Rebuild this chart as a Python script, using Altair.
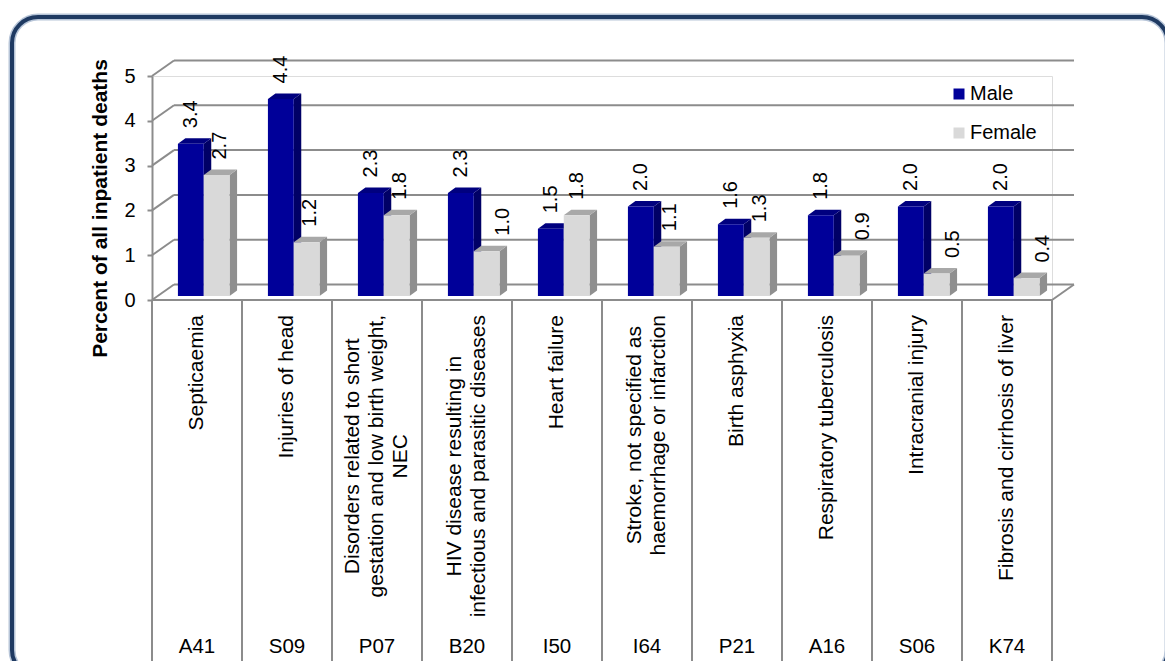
import altair as alt
import pandas as pd

# ---------------- data ----------------
codes = ["A41", "S09", "P07", "B20", "I50", "I64", "P21", "A16", "S06", "K74"]
descriptions = [
    "Septicaemia",
    "Injuries of head",
    "Disorders related to short\ngestation and low birth weight,\nNEC",
    "HIV disease resulting in\ninfectious and parasitic diseases",
    "Heart failure",
    "Stroke, not specified as\nhaemorrhage or infarction",
    "Birth asphyxia",
    "Respiratory tuberculosis",
    "Intracranial injury",
    "Fibrosis and cirrhosis of liver",
]
male = [3.4, 4.4, 2.3, 2.3, 1.5, 2.0, 1.6, 1.8, 2.0, 2.0]
female = [2.7, 1.2, 1.8, 1.0, 1.8, 1.1, 1.3, 0.9, 0.5, 0.4]
series = ["Male", "Female"]
y_ticks = [0, 1, 2, 3, 4, 5]

# ---------------- style ----------------
W, H = 900, 224
PXX, PXY = W / 10, H / 5
FONT = "Liberation Sans"
FS = 20
FS_CAT = 21
LH = 24
MALE_FRONT, MALE_SIDE, MALE_TOP = "#000099", "#000066", "#00007F"
FEM_FRONT, FEM_SIDE, FEM_TOP = "#D9D9D9", "#8F8F8F", "#A8A8A8"
GRID = "#8C8C8C"
WALL_DX, WALL_DY = 22 / PXX, 15.5 / PXY
BAR_C, BAR_W, BAR_BASE = 0.575, 0.287, 4 / PXY
DDX, DDY = 7.5 / PXX, 5.5 / PXY

AW = {' ': 278, ',': 278, '.': 278}
AW.update({d: 556 for d in "0123456789"})
AW.update(dict(zip("ABCDEFGHIJKLMNOPQRSTUVWXYZ",
                   [667, 667, 722, 722, 667, 611, 778, 722, 278, 500, 667, 556, 833,
                    722, 778, 667, 778, 722, 667, 611, 722, 667, 944, 667, 667, 611])))
AW.update(dict(zip("abcdefghijklmnopqrstuvwxyz",
                   [556, 556, 500, 556, 556, 278, 556, 556, 222, 222, 500, 222, 833,
                    556, 556, 556, 556, 333, 500, 278, 556, 500, 722, 500, 500, 500])))


def text_w(s, size):
    return sum(AW.get(ch, 556) for ch in s) / 1000 * size


xs = alt.Scale(domain=[0, 10], nice=False, zero=False)
ys = alt.Scale(domain=[0, 5], nice=False, zero=False)
yax = alt.Axis(
    values=y_ticks, title="Percent of all inpatient deaths", grid=False,
    labelFont=FONT, labelFontSize=FS, labelColor="black", labelPadding=12,
    tickColor=GRID, tickSize=5, tickWidth=2, domainColor=GRID, domainWidth=2,
    titleFont=FONT, titleFontSize=21, titleFontWeight="bold", titleColor="black",
    titleAngle=270, titleX=-52, titleY=132, titleAlign="center", titleBaseline="middle")

# ---------------- tables built from the arrays ----------------
front, sides, tops, labels = [], [], [], []
for i in range(len(codes)):
    c = i + BAR_C
    for s, vals in zip(series, [male, female]):
        v = vals[i]
        x1 = c - BAR_W if s == "Male" else c
        x2 = x1 + BAR_W
        top = v + BAR_BASE
        bid = f"{s}-{i}"
        front.append(dict(sex=s, x1=x1, x2=x2, top=top, base=BAR_BASE))
        sides += [dict(sex=s, bar=bid, x=x2, y=top, y2=BAR_BASE),
                  dict(sex=s, bar=bid, x=x2 + DDX, y=top + DDY, y2=BAR_BASE + DDY)]
        tops += [dict(sex=s, bar=bid, x=x1, y=top, y2=top),
                 dict(sex=s, bar=bid, x=x1 + DDX, y=top + DDY, y2=top),
                 dict(sex=s, bar=bid, x=x2, y=top + DDY, y2=top),
                 dict(sex=s, bar=bid, x=x2 + DDX, y=top + DDY, y2=top + DDY)]
        lx = (x1 + x2) / 2
        if s == "Female" and male[i] > v + 0.2:
            gap = 15 if v <= 1.0 else 2
            lx = max(lx, c + DDX + (gap + 7) / PXX)
        labels.append(dict(x=lx, y=top + DDY, t=f"{v:.1f}"))

front = pd.DataFrame(front)
sides = pd.DataFrame(sides)
tops = pd.DataFrame(tops)
labels = pd.DataFrame(labels)

nlines = [len(d.split("\n")) for d in descriptions]
cat_df = pd.DataFrame({
    "x": [i + 0.5 - (n - 1) * LH / 2 / PXX for i, n in enumerate(nlines)],
    "xc": [i + 0.5 for i in range(len(codes))],
    "code": codes,
    "desc": descriptions,
    "ly": [-(15 + max(text_w(l, FS_CAT) for l in d.split("\n")) / 2) / PXY for d in descriptions],
})
sep_df = pd.DataFrame({"x": [float(i) for i in range(len(codes) + 1)]})
sep_df["y0"] = 0.0
grid_df = pd.DataFrame({"v": [float(t) for t in y_ticks]})
grid_df["vb"] = grid_df["v"] + WALL_DY
grid_df["x0"] = 0.0
grid_df["xb"] = WALL_DX
grid_df["xe"] = 10 + WALL_DX
floor_df = pd.DataFrame({"xa": [0.0, 10.0], "xb": [10.0, 10 + WALL_DX],
                         "ya": [0.0, 0.0], "yb": [0.0, WALL_DY]})
one = pd.DataFrame({"a": [0]})

# ---------------- layers ----------------
frame_glow = alt.Chart(one).mark_rect(
    fill="transparent", stroke="#7E97BA", strokeWidth=7, cornerRadius=26, opacity=0.55
).encode(x=alt.value(-140), x2=alt.value(1016), y=alt.value(-59), y2=alt.value(600))
frame = alt.Chart(one).mark_rect(
    fill="transparent", stroke="#1F3A62", strokeWidth=4, cornerRadius=26
).encode(x=alt.value(-140), x2=alt.value(1016), y=alt.value(-59), y2=alt.value(600))

back_grid = alt.Chart(grid_df).mark_rule(color=GRID, strokeWidth=2).encode(
    x=alt.X("xb:Q", scale=xs, axis=None), x2="xe:Q",
    y=alt.Y("vb:Q", scale=ys, axis=yax))
wall_diag = alt.Chart(grid_df).mark_rule(color=GRID, strokeWidth=2).encode(
    x=alt.X("x0:Q", scale=xs, axis=None), x2="xb:Q",
    y=alt.Y("v:Q", scale=ys, axis=yax), y2="vb:Q")
floor = alt.Chart(floor_df).mark_rule(color=GRID, strokeWidth=2).encode(
    x=alt.X("xa:Q", scale=xs, axis=None), x2="xb:Q",
    y=alt.Y("ya:Q", scale=ys, axis=yax), y2="yb:Q")
separators = alt.Chart(sep_df).mark_rule(color=GRID, strokeWidth=2).encode(
    x=alt.X("x:Q", scale=xs, axis=None), y=alt.Y("y0:Q", scale=ys, axis=yax),
    y2=alt.value(590))


def face(df, color):
    return alt.Chart(df).mark_area(color=color, orient="vertical", interpolate="linear").encode(
        x=alt.X("x:Q", scale=xs, axis=None),
        y=alt.Y("y:Q", scale=ys, axis=yax, stack=None), y2="y2:Q",
        detail="bar:N")


male_side = face(sides[sides.sex == "Male"], MALE_SIDE)
male_top = face(tops[tops.sex == "Male"], MALE_TOP)
fem_side = face(sides[sides.sex == "Female"], FEM_SIDE)
fem_top = face(tops[tops.sex == "Female"], FEM_TOP)

fronts = alt.Chart(front).mark_rect().encode(
    x=alt.X("x1:Q", scale=xs, axis=None), x2="x2:Q",
    y=alt.Y("top:Q", scale=ys, axis=yax), y2="base:Q",
    color=alt.Color("sex:N", scale=alt.Scale(domain=series, range=[MALE_FRONT, FEM_FRONT]),
                    legend=alt.Legend(orient="none", legendX=797, legendY=8, title=None,
                                      symbolType="square", symbolSize=121, symbolStrokeWidth=0,
                                      labelFont=FONT, labelFontSize=FS, labelColor="black",
                                      rowPadding=19, labelOffset=1, padding=0)))

value_text = alt.Chart(labels).mark_text(
    angle=270, align="left", baseline="middle", dx=10, font=FONT, fontSize=FS, color="black"
).encode(x=alt.X("x:Q", scale=xs, axis=None), y=alt.Y("y:Q", scale=ys, axis=yax), text="t:N")

desc_text = alt.Chart(cat_df).mark_text(
    angle=270, align="center", baseline="middle", lineBreak="\n", lineHeight=LH,
    font=FONT, fontSize=FS_CAT, color="black"
).encode(x=alt.X("x:Q", scale=xs, axis=None), y=alt.Y("ly:Q", scale=ys, axis=yax), text="desc:N")

code_text = alt.Chart(cat_df).mark_text(
    align="center", baseline="middle", font=FONT, fontSize=20.5, color="black"
).encode(x=alt.X("xc:Q", scale=xs, axis=None), y=alt.value(571), text="code:N")

chart = alt.layer(
    frame_glow, frame, back_grid, wall_diag, floor, separators,
    male_side, male_top, fem_side, fem_top, fronts, value_text, desc_text, code_text
).properties(
    width=W, height=H,
    autosize=alt.AutoSizeParams(type="none"),
    padding={"left": 144, "top": 68, "right": 113, "bottom": 361},
).configure_view(stroke=None).configure(background="white")

chart.save("out.html", embed_options={"renderer": "svg", "actions": False})
